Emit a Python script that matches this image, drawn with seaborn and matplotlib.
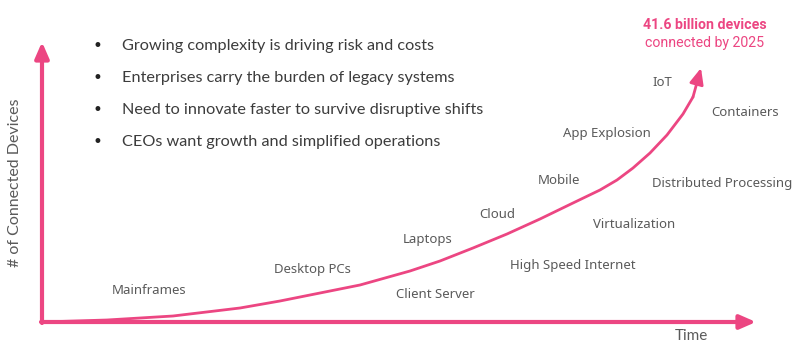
import matplotlib
matplotlib.use("Agg")
import matplotlib.pyplot as plt
import seaborn as sns
import pandas as pd

sns.set_theme(style="white")

# ------------------------------
# データ
# ------------------------------
curve_x = [42, 107, 173, 240, 280, 310, 360, 410, 440, 473, 507, 540, 573, 600, 617, 633, 650, 667, 683, 693]
curve_y = [322, 320, 316, 308, 301, 295, 285, 271, 261, 248, 234, 219, 203, 190, 180, 168, 153, 135, 114, 97]

eras = ["Mainframes", "Desktop PCs", "Client Server", "Laptops", "High Speed Internet",
        "Cloud", "Virtualization", "Mobile", "Distributed Processing", "App Explosion",
        "IoT", "Containers"]
era_x = [149, 312, 435, 428, 573, 497, 634, 559, 722, 607, 662, 745]
era_y = [290, 270, 294, 240, 265, 214, 225, 181, 183, 134, 83, 112]

bullets = ["Growing complexity is driving risk and costs",
           "Enterprises carry the burden of legacy systems",
           "Need to innovate faster to survive disruptive shifts",
           "CEOs want growth and simplified operations"]

PINK = "#ec4682"
GRAY = "#5a5a5a"

fig = plt.figure(figsize=(8, 3.58), dpi=100)
ax = fig.add_axes([0, 0, 1, 1])
ax.set_xlim(0, 800)
ax.set_ylim(358, 0)
ax.axis("off")

# 曲線
df = pd.DataFrame({"x": curve_x, "y": curve_y})
sns.lineplot(data=df, x="x", y="y", ax=ax, color=PINK, lw=2, sort=False)
ax.annotate("", xy=(701, 68), xytext=(curve_x[-1], curve_y[-1]),
            arrowprops=dict(arrowstyle="-|>,head_length=0.8,head_width=0.35", color=PINK, lw=2,
                            shrinkA=0, shrinkB=0))

# 軸
ax.annotate("", xy=(42, 42), xytext=(42, 323),
            arrowprops=dict(arrowstyle="-|>,head_length=0.8,head_width=0.35", color=PINK, lw=3,
                            shrinkA=0, shrinkB=0))
ax.annotate("", xy=(756, 322), xytext=(41, 322),
            arrowprops=dict(arrowstyle="-|>,head_length=0.8,head_width=0.35", color=PINK, lw=3,
                            shrinkA=0, shrinkB=0))

ax.text(15, 183, "# of Connected Devices", rotation=90, ha="center", va="center",
        fontsize=11.5, color=GRAY, family="Lato")
ax.text(691, 336, "Time", ha="center", va="center", fontsize=11, color=GRAY, family="Lato")

# ラベル
for name, x, y in zip(eras, era_x, era_y):
    ax.text(x, y, name, ha="center", va="center", fontsize=9.5, color=GRAY, family="Noto Sans")

# 箇条書き
for i, b in enumerate(bullets):
    y = 46 + i * 32
    ax.text(97, y, "\u2022", ha="center", va="center", fontsize=12, color="#222222")
    ax.text(122, y, b, ha="left", va="center", fontsize=11.7, color="#3c3c3c", family="Lato")

ax.text(705, 25, "41.6 billion devices", ha="center", va="center", fontsize=10.2,
        fontweight="bold", color=PINK, family="Roboto")
ax.text(705, 43, "connected by 2025", ha="center", va="center", fontsize=10.2,
        color=PINK, family="Roboto")

fig.savefig("out.png", dpi=100)
